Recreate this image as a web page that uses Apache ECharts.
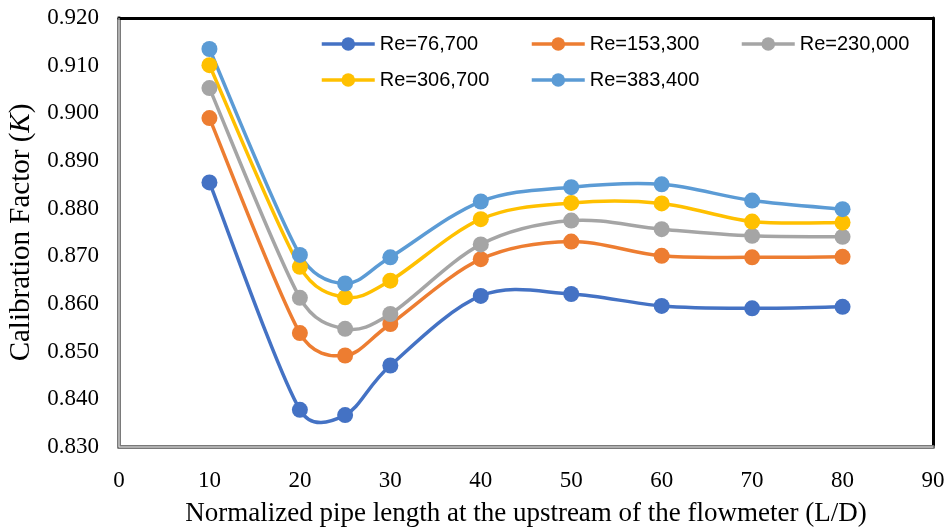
<!DOCTYPE html>
<html>
<head>
<meta charset="utf-8">
<script src="https://cdn.jsdelivr.net/npm/echarts@6/dist/echarts.min.js"></script>
<style>
  html, body { margin: 0; padding: 0; background: #fff; }
  #chart { width: 946px; height: 531px; }
</style>
</head>
<body>
<div id="chart"></div>
<script>
// Upstream pipe length (L/D) at which K was measured
const lengths = [10, 20, 25, 30, 40, 50, 60, 70, 80];

// Calibration factor K for each Reynolds number
const re76700  = [0.8855, 0.8378, 0.8367, 0.8471, 0.8617, 0.8621, 0.8596, 0.8591, 0.8594];
const re153300 = [0.8990, 0.8539, 0.8492, 0.8558, 0.8694, 0.8731, 0.8701, 0.8698, 0.8699];
const re230000 = [0.9053, 0.8613, 0.8548, 0.8579, 0.8725, 0.8775, 0.8757, 0.8743, 0.8741];
const re306700 = [0.9101, 0.8678, 0.8614, 0.8649, 0.8778, 0.8812, 0.8811, 0.8773, 0.8771];
const re383400 = [0.9135, 0.8703, 0.8643, 0.8698, 0.8815, 0.8845, 0.8851, 0.8817, 0.8799];

const seriesNames = ['Re=76,700', 'Re=153,300', 'Re=230,000', 'Re=306,700', 'Re=383,400'];
const seriesValues = [re76700, re153300, re230000, re306700, re383400];
const colors = ['#4472C4', '#ED7D31', '#A5A5A5', '#FFC000', '#5B9BD5'];

const xTitle = 'Normalized pipe length at the upstream of the flowmeter (L/D)';

const chart = echarts.init(document.getElementById('chart'), null, { renderer: 'canvas' });

const serif = '"Liberation Serif", "DejaVu Serif", serif';
const sans = '"Liberation Sans", Arial, sans-serif';
const LINE_W = 3.5;

// one legend per entry so the columns line up
const legendPos = [
  { left: 320, top: 34 }, { left: 530, top: 34 }, { left: 740, top: 34 },
  { left: 320, top: 70 }, { left: 530, top: 70 }
];
const legends = seriesNames.map((n, i) => ({
  data: [n],
  left: legendPos[i].left,
  top: legendPos[i].top,
  itemWidth: 53,
  itemHeight: 17,
  itemGap: 0,
  padding: 0,
  selectedMode: false,
  lineStyle: { width: LINE_W, opacity: 1 },
  textStyle: { fontFamily: sans, fontSize: 20, color: '#000' }
}));

const dist = (a, b) => Math.hypot(b[0] - a[0], b[1] - a[1]);

// Smoothed segment between point j and j+1: cubic Bezier whose tangents
// follow the neighbouring points, shortened when a neighbour chord is long
function smoothSegment(vals, color) {
  const n = lengths.length;
  const clampIdx = k => Math.max(0, Math.min(n - 1, k));
  return function (params, api) {
    const j = params.dataIndex;
    if (j >= n - 1) return null;
    const P = k => api.coord([lengths[clampIdx(k)], vals[clampIdx(k)]]);
    const p0 = P(j - 1), p1 = P(j), p2 = P(j + 1), p3 = P(j + 2);
    const d12 = dist(p1, p2), d02 = dist(p0, p2), d13 = dist(p1, p3);
    let f0 = 1 / 6, f1 = 1 / 6;
    if (d02 / 6 >= d12 / 2 && d02 > 0) f0 = d12 / (2 * d02);
    if (d13 / 6 >= d12 / 2 && d13 > 0) f1 = d12 / (2 * d13);
    return {
      type: 'bezierCurve',
      shape: {
        x1: p1[0], y1: p1[1], x2: p2[0], y2: p2[1],
        cpx1: p1[0] + (p2[0] - p0[0]) * f0, cpy1: p1[1] + (p2[1] - p0[1]) * f0,
        cpx2: p2[0] - (p3[0] - p1[0]) * f1, cpy2: p2[1] - (p3[1] - p1[1]) * f1
      },
      style: { stroke: color, lineWidth: LINE_W, fill: null, lineCap: 'round' }
    };
  };
}

const curves = seriesValues.map((vals, i) => ({
  id: 'curve' + i,
  type: 'custom',
  data: lengths.map((x, j) => [x, vals[j]]),
  encode: { x: 0, y: 1 },
  renderItem: smoothSegment(vals, colors[i]),
  silent: true,
  z: 2
}));

const markers = seriesNames.map((n, i) => ({
  name: n,
  type: 'line',
  data: lengths.map((x, j) => [x, seriesValues[i][j]]),
  symbol: 'circle',
  symbolSize: 16,
  color: colors[i],
  lineStyle: { width: LINE_W, color: colors[i], opacity: 0 },
  itemStyle: { color: colors[i] },
  z: 3
}));

chart.setOption({
  animation: false,
  backgroundColor: '#ffffff',
  legend: legends,
  grid: { left: 119, right: 13, top: 18, bottom: 84, show: false, containLabel: false, outerBoundsMode: 'none' },
  xAxis: [
    {
      type: 'value', min: 0, max: 90, interval: 10,
      name: xTitle, nameLocation: 'middle', nameGap: 53,
      nameTextStyle: { fontFamily: serif, fontSize: 27, color: '#000' },
      axisLine: { show: true, lineStyle: { color: '#7a7a7a', width: 4 } },
      axisTick: { show: false },
      splitLine: { show: false },
      axisLabel: { fontFamily: serif, fontSize: 23, color: '#000', margin: 22 }
    },
    {
      type: 'value', min: 0, max: 90, position: 'top',
      axisLine: { show: true, onZero: false, lineStyle: { color: '#000', width: 3 } },
      axisTick: { show: false }, axisLabel: { show: false }, splitLine: { show: false }
    }
  ],
  yAxis: [
    {
      type: 'value', min: 0.83, max: 0.92, interval: 0.01,
      name: '{n|Calibration Factor (}{i|K}{n|)}',
      nameLocation: 'middle', nameGap: 82, nameRotate: 90,
      nameTextStyle: {
        fontFamily: serif, fontSize: 29, color: '#000',
        rich: {
          n: { fontFamily: serif, fontSize: 29, color: '#000' },
          i: { fontFamily: serif, fontSize: 29, color: '#000', fontStyle: 'italic' }
        }
      },
      axisLine: { show: true, lineStyle: { color: '#7a7a7a', width: 4 } },
      axisTick: { show: false },
      splitLine: { show: false },
      axisLabel: {
        fontFamily: serif, fontSize: 23, color: '#000', margin: 20,
        formatter: v => v.toFixed(3)
      }
    },
    {
      type: 'value', min: 0.83, max: 0.92, position: 'right',
      axisLine: { show: true, onZero: false, lineStyle: { color: '#000', width: 3 } },
      axisTick: { show: false }, axisLabel: { show: false }, splitLine: { show: false }
    }
  ],
  series: curves.concat(markers)
});

// lighter core inside the grey left/bottom frame lines
const p0 = chart.convertToPixel({ xAxisIndex: 0, yAxisIndex: 0 }, [0, 0.83]);
const p1 = chart.convertToPixel({ xAxisIndex: 0, yAxisIndex: 0 }, [90, 0.92]);
chart.setOption({
  graphic: [
    { type: 'line', shape: { x1: p0[0], y1: p0[1], x2: p1[0], y2: p0[1] }, style: { stroke: '#e6e6e6', lineWidth: 1 }, z: 10 },
    { type: 'line', shape: { x1: p0[0], y1: p0[1], x2: p0[0], y2: p1[1] }, style: { stroke: '#e6e6e6', lineWidth: 1 }, z: 10 }
  ]
});
</script>
</body>
</html>
